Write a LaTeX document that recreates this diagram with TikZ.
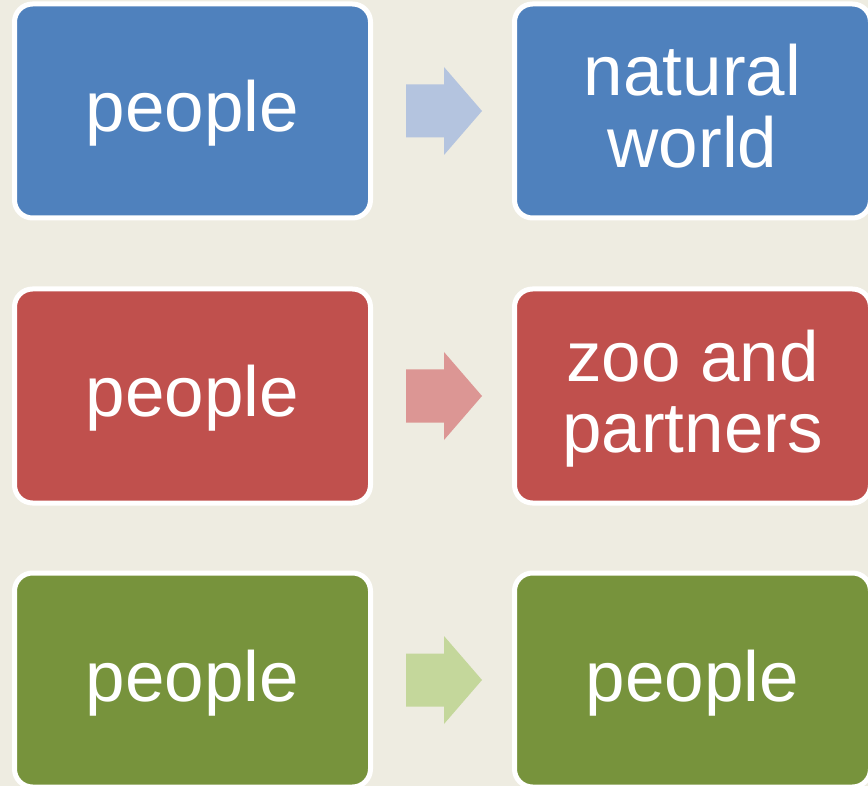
\documentclass[tikz,border=0pt]{standalone}
\usepackage{fontspec}
\setmainfont{Liberation Sans}
\usetikzlibrary{calc}
\definecolor{bgcolor}{HTML}{EEECE1}
\definecolor{myblue}{HTML}{4F81BD}
\definecolor{myred}{HTML}{C0504D}
\definecolor{mygreen}{HTML}{77933C}
\definecolor{lightblue}{RGB}{180,196,223}
\definecolor{lightred}{RGB}{220,150,148}
\definecolor{lightgreen}{RGB}{196,215,155}
\newcommand{\rowstrut}{\rule[-15pt]{0pt}{72pt}}

\tikzset{
  box/.style={draw=white, line width=5pt, rounded corners=18pt,
    minimum width=356pt, minimum height=214pt, inner sep=0pt,
    text=white, align=center, font=\fontsize{71}{72}\selectfont},
  rowarrow/.pic={
    \fill (-38,-26.5) -- (0,-26.5) -- (0,-44) -- (38,0) -- (0,44)
      -- (0,26.5) -- (-38,26.5) -- cycle;
  }
}

\begin{document}
\begin{tikzpicture}[x=1pt,y=-1pt]
  \fill[bgcolor] (0,0) rectangle (868,786);
  \useasboundingbox (0,0) rectangle (868,786);

  % row 1
  \node[box, fill=myblue] (p1) at (192.5,111) {\rowstrut people};
  \node[box, fill=myblue] (w1) at (692.5,111) {\rowstrut natural\\\rowstrut world};
  \pic[fill=lightblue] at ($(p1.east)!0.5!(w1.west)+(1.5,0)$) {rowarrow};

  % row 2
  \node[box, fill=myred] (p2) at (192.5,396) {\rowstrut people};
  \node[box, fill=myred] (z2) at (692.5,396) {\rowstrut zoo and\\\rowstrut partners};
  \pic[fill=lightred] at ($(p2.east)!0.5!(z2.west)+(1.5,0)$) {rowarrow};

  % row 3
  \node[box, fill=mygreen] (p3) at (192.5,680) {\rowstrut people};
  \node[box, fill=mygreen] (q3) at (692.5,680) {\rowstrut people};
  \pic[fill=lightgreen] at ($(p3.east)!0.5!(q3.west)+(1.5,0)$) {rowarrow};
\end{tikzpicture}
\end{document}
